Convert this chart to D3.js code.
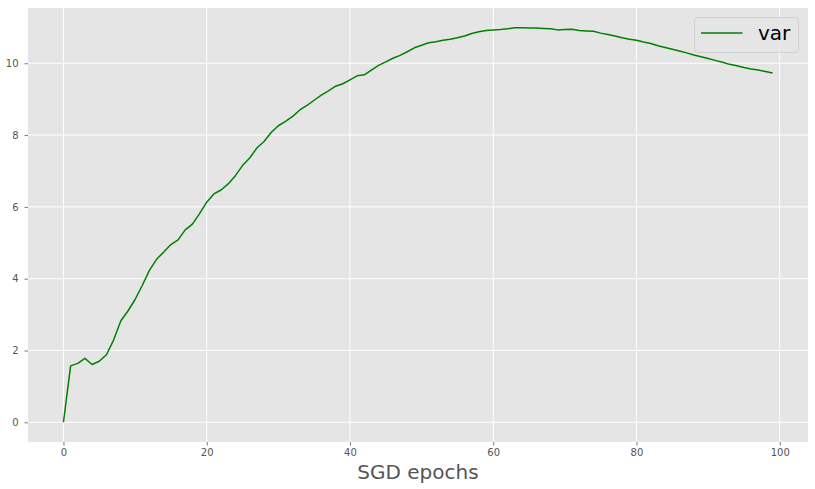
<!DOCTYPE html>
<html>
<head>
<meta charset="utf-8">
<script src="https://cdn.jsdelivr.net/npm/d3@7"></script>
<style>
  html, body { margin: 0; padding: 0; background: #fff; }
  svg { display: block; font-family: "DejaVu Sans", sans-serif; }
</style>
</head>
<body>
<svg id="chart" width="815" height="489"></svg>
<script>
// ---- data ----
const epochs = d3.range(0, 100);
const varValues = [
  0.00, 1.57, 1.64, 1.78, 1.61, 1.70, 1.88, 2.29, 2.82, 3.10,
  3.42, 3.81, 4.23, 4.54, 4.74, 4.95, 5.08, 5.36, 5.52, 5.81,
  6.13, 6.36, 6.47, 6.64, 6.87, 7.15, 7.36, 7.64, 7.82, 8.07,
  8.26, 8.38, 8.52, 8.70, 8.83, 8.97, 9.11, 9.23, 9.36, 9.43,
  9.54, 9.65, 9.68, 9.81, 9.94, 10.04, 10.14, 10.22, 10.32, 10.43,
  10.50, 10.57, 10.60, 10.64, 10.67, 10.71, 10.76, 10.83, 10.88, 10.91,
  10.93, 10.94, 10.96, 10.99, 10.99, 10.98, 10.98, 10.97, 10.96, 10.93,
  10.94, 10.95, 10.91, 10.90, 10.89, 10.84, 10.80, 10.76, 10.71, 10.67,
  10.64, 10.59, 10.55, 10.49, 10.44, 10.39, 10.34, 10.29, 10.23, 10.18,
  10.13, 10.08, 10.03, 9.97, 9.93, 9.88, 9.84, 9.81, 9.77, 9.73
];
const xTicks = [0, 20, 40, 60, 80, 100];
const yTicks = [0, 2, 4, 6, 8, 10];
const seriesName = "var";
const xLabel = "SGD epochs";

// ---- layout ----
const W = 815, H = 489;
const plot = { left: 28, top: 8, right: 808, bottom: 442 };

const svg = d3.select("#chart");

function padded(ext) {
  const d = (ext[1] - ext[0]) * 0.05;
  return [ext[0] - d, ext[1] + d];
}
const x = d3.scaleLinear().domain(padded(d3.extent(epochs))).range([plot.left, plot.right]);
const y = d3.scaleLinear().domain(padded(d3.extent(varValues))).range([plot.bottom, plot.top]);

// axes background
svg.append("rect")
  .attr("x", plot.left).attr("y", plot.top)
  .attr("width", plot.right - plot.left).attr("height", plot.bottom - plot.top)
  .attr("fill", "#E5E5E5");

// grid
const grid = svg.append("g").attr("stroke", "#fff").attr("stroke-width", 1);
grid.selectAll("line.v").data(xTicks).join("line")
  .attr("x1", d => x(d)).attr("x2", d => x(d))
  .attr("y1", plot.top).attr("y2", plot.bottom);
grid.selectAll("line.h").data(yTicks).join("line")
  .attr("y1", d => y(d)).attr("y2", d => y(d))
  .attr("x1", plot.left).attr("x2", plot.right);

// axes
const xAxis = svg.append("g")
  .attr("transform", `translate(0,${plot.bottom})`)
  .call(d3.axisBottom(x).tickValues(xTicks).tickSize(3.5).tickPadding(3).tickSizeOuter(0));
const yAxis = svg.append("g")
  .attr("transform", `translate(${plot.left},0)`)
  .call(d3.axisLeft(y).tickValues(yTicks).tickSize(3.5).tickPadding(6).tickSizeOuter(0));
[xAxis, yAxis].forEach(g => {
  g.select(".domain").remove();
  g.selectAll(".tick line").attr("stroke", "#555").attr("stroke-width", 0.8);
  g.selectAll(".tick text").attr("fill", "#555").attr("font-size", "10px")
    .attr("font-family", "DejaVu Sans, sans-serif");
});

// line
const line = d3.line().x((d, i) => x(epochs[i])).y(d => y(d));
svg.append("path")
  .datum(varValues)
  .attr("d", line)
  .attr("fill", "none")
  .attr("stroke", "#008000")
  .attr("stroke-width", 1.5)
  .attr("stroke-linejoin", "round");

// x label
svg.append("text")
  .attr("x", (plot.left + plot.right) / 2)
  .attr("y", 478.5)
  .attr("text-anchor", "middle")
  .attr("font-size", "20px")
  .attr("fill", "#555")
  .text(xLabel);

// legend
const lg = svg.append("g");
lg.append("rect")
  .attr("x", 694.5).attr("y", 17.5).attr("width", 104).attr("height", 35)
  .attr("rx", 3).attr("ry", 3)
  .attr("fill", "#E5E5E5").attr("fill-opacity", 0.8)
  .attr("stroke", "#CCCCCC").attr("stroke-opacity", 0.8).attr("stroke-width", 1);
lg.append("line")
  .attr("x1", 701).attr("x2", 742.5).attr("y1", 33).attr("y2", 33)
  .attr("stroke", "#008000").attr("stroke-width", 1.5);
lg.append("text")
  .attr("x", 758).attr("y", 39.5)
  .attr("font-size", "20px")
  .attr("fill", "#000")
  .text(seriesName);
</script>
</body>
</html>
